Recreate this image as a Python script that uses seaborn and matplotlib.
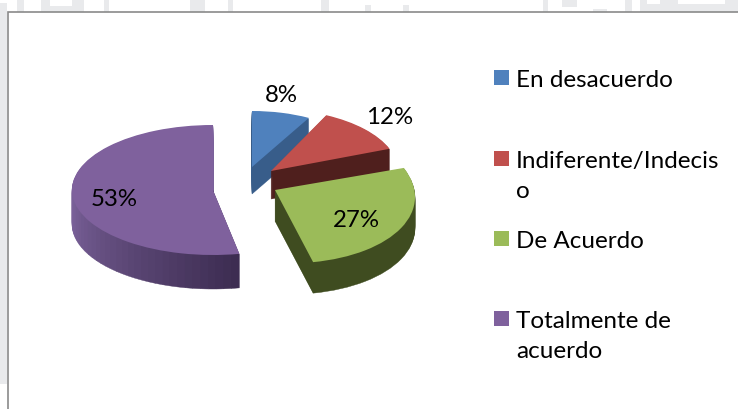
import matplotlib
matplotlib.use("Agg")
import matplotlib.pyplot as plt
from matplotlib.patches import Rectangle
from matplotlib.transforms import Affine2D
import seaborn as sns

categories = ["En desacuerdo", "Indiferente/Indecis\no", "De Acuerdo", "Totalmente de\nacuerdo"]
percents = [8, 12, 27, 53]

sns.set_theme(style="white")
plt.rcParams["font.family"] = ["Lato", "DejaVu Sans"]

top_colors = ["#4f81bd", "#c0504d", "#9bbb59", "#7f619d"]
wall_colors = ["#385d8a", "#4f1f1d", "#3f4c20", "#3d2d52"]

# pixel geometry of each exploded slice: apex x, apex y, rx, ry, depth, turn, shear
slices = [
    (252, 168, 118, 56, 27, 0, 0),
    (271, 172, 127, 62, 28, 3, 0),
    (275, 191, 140, 73, 31, 5, 7),
    (213, 191, 141, 65, 34, 0, 0),
]
label_pos = [(281, 96), (390, 117), (356, 221), (114, 200)]
legend_y = [79, 160, 240, 320]

fig = plt.figure(figsize=(7.38, 4.1), dpi=100)
ax = fig.add_axes([0, 0, 1, 1])


def draw_slice(fracs, start, colors, geom, drop, lw=0):
    cx, cy, rx, ry, _, turn, shear = geom
    squash = Affine2D.from_values(rx, -shear, 0, ry, cx, 410 - cy - drop)
    tr = Affine2D().rotate_deg(turn) + squash + ax.transData
    wedges, _ = ax.pie(fracs, colors=colors, startangle=start, counterclock=False, normalize=False,
                       radius=1, wedgeprops={"transform": tr, "linewidth": lw})
    for w in wedges:
        w.set_edgecolor(w.get_facecolor())


# purple wall goes dark to light from the front edge round to the left side
n_parts = 60
purple_wall = sns.blend_palette([wall_colors[3], "#7a6199"], 30) + ["#7a6199"] * 30

start = 90
for i, pct in enumerate(percents):
    frac = pct / 100
    for drop in range(slices[i][4], 0, -1):
        if i == 3:
            draw_slice([frac / n_parts] * n_parts, start, purple_wall, slices[i], drop, lw=0.3)
        else:
            draw_slice([frac], start, [wall_colors[i]], slices[i], drop, lw=0.3)
    draw_slice([frac], start, [top_colors[i]], slices[i], 0)
    start -= frac * 360

# faint page background showing around the chart frame
page = "#e9eaec"
for x, w, h in [(17, 7, 13), (41, 9, 13), (50, 22, 6), (72, 12, 13), (104, 5, 13), (190, 15, 13),
                (228, 5, 13), (321, 8, 13), (365, 6, 7), (403, 6, 7), (543, 5, 13), (593, 14, 3),
                (625, 7, 13), (640, 98, 8), (640, 7, 13), (660, 18, 13), (725, 13, 13)]:
    ax.add_patch(Rectangle((x, 397), w, h, fc=page, ec="none", zorder=-2))
ax.add_patch(Rectangle((562, 402), 15, 8, fc=page, ec="none", zorder=-2))
ax.add_patch(Rectangle((0, 25), 7, 381, fc=page, ec="none", zorder=-2))
ax.add_patch(Rectangle((8, -2), 740, 399, fc="white", ec="#8a8a8a", lw=1.2, zorder=-1))

for pct, (x, y) in zip(percents, label_pos):
    ax.text(x, 410 - y, f"{pct}%", fontsize=17.3, color="black", ha="center", va="center")

for i, name in enumerate(categories):
    ax.add_patch(Rectangle((494, 410 - legend_y[i] - 7), 15, 15, fc=top_colors[i], ec="none"))
    ax.text(516, 410 - legend_y[i] + 9, name, fontsize=17.5, color="black", ha="left", va="top",
            linespacing=1.53)

ax.set_xlim(0, 738)
ax.set_ylim(0, 410)
ax.set_aspect("equal")
ax.axis("off")
fig.savefig("out.png", dpi=100)
